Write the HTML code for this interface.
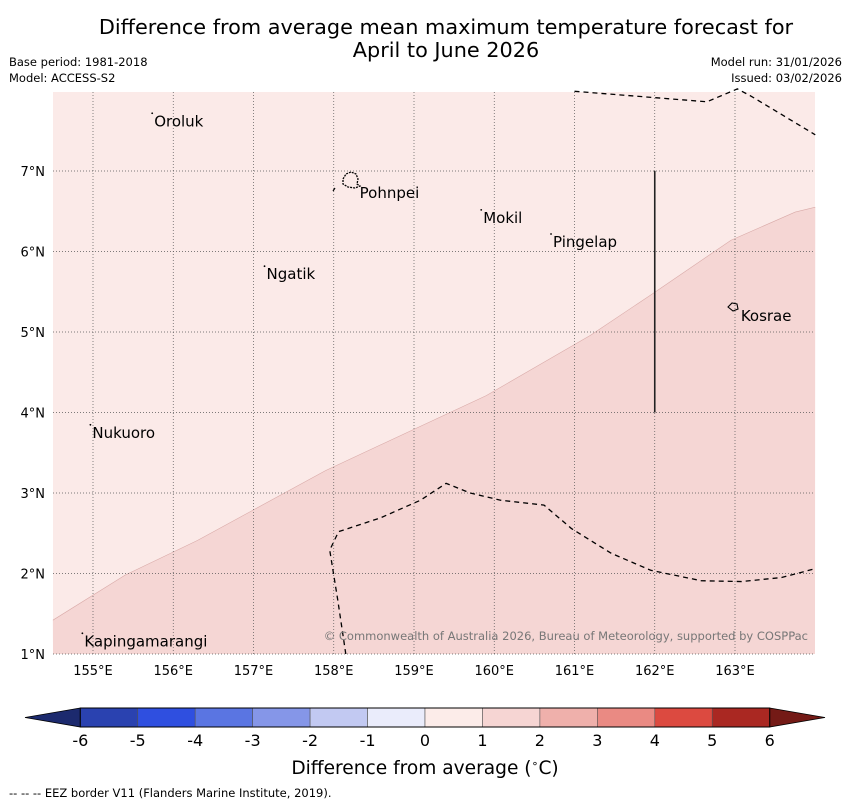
<!DOCTYPE html>
<html><head><meta charset="utf-8"><style>
body{margin:0;background:#fff;font-family:"Liberation Sans","DejaVu Sans",sans-serif}
svg{display:block}
</style></head><body>
<svg width="850" height="804" viewBox="0 0 850 804" font-family="DejaVu Sans, Liberation Sans, sans-serif">
<text x="446" y="34" text-anchor="middle" font-size="20.8">Difference from average mean maximum temperature forecast for</text>
<text x="446" y="57" text-anchor="middle" font-size="20.8">April to June 2026</text>
<text x="9" y="66" font-size="11.5">Base period: 1981-2018</text>
<text x="9" y="82" font-size="11.5">Model: ACCESS-S2</text>
<text x="842" y="66" font-size="11.5" text-anchor="end">Model run: 31/01/2026</text>
<text x="842" y="82" font-size="11.5" text-anchor="end">Issued: 03/02/2026</text>
<g id="map"></g>
<g id="cbar"></g>
<text x="425" y="774" text-anchor="middle" font-size="18.6">Difference from average (<tspan font-size="11" dy="-7">∘</tspan><tspan dy="7">C)</tspan></text>
<text x="9" y="797" font-size="11.5">--  --  -- EEZ border V11 (Flanders Marine Institute, 2019).</text>
</svg>
<script>
const lonTicks=[155,156,157,158,159,160,161,162,163];
const latTicks=[1,2,3,4,5,6,7];
const boundaryLon=[154.5,155.4,156.3,157.9,159.9,161.2,161.95,162.95,163.75,164.0];
const boundaryLat=[1.42,1.98,2.41,3.28,4.21,4.96,5.46,6.14,6.49,6.55];
const eezTopLon=[161.0,162.65,163.03,163.2,164.0];
const eezTopLat=[7.99,7.86,8.02,7.93,7.45];
const eezBotLon=[158.15,158.05,157.95,158.06,158.58,159.08,159.4,159.7,160.08,160.62,160.96,161.46,161.95,162.58,163.08,163.58,164.0];
const eezBotLat=[1.0,1.67,2.29,2.52,2.69,2.91,3.12,3.0,2.91,2.85,2.56,2.25,2.04,1.91,1.9,1.95,2.06];
const places=["Oroluk","Pohnpei","Mokil","Pingelap","Ngatik","Kosrae","Nukuoro","Kapingamarangi"];
const placeLon=[155.75,158.31,159.85,160.72,157.15,163.06,154.98,154.88];
const placeLat=[7.68,6.79,6.48,6.18,5.78,5.26,3.81,1.22];
const levels=[-6,-5,-4,-3,-2,-1,0,1,2,3,4,5,6];
const colors=["#2a42b0","#2f4fe0","#5a75e2","#8596e8","#c2c9f2","#eaecfb","#fcece9","#f6d5d3","#efb0ab","#ea8a83","#dc4a40","#aa2822"];
const X0=53,X1=815,Y0=92,Y1=654;
const x=l=>93+(l-155)*80.25, y=t=>654-(t-1)*80.5;
const NS="http://www.w3.org/2000/svg";
function mk(t,a,p){const e=document.createElementNS(NS,t);for(const k in a)e.setAttribute(k,a[k]);p.appendChild(e);return e;}
const map=document.getElementById('map');
const bg=mk('rect',{x:X0,y:Y0,width:X1-X0,height:Y1-Y0,fill:'#fbeae8'},map);


let d='M'+x(boundaryLon[0])+','+y(boundaryLat[0]);
for(let i=1;i<boundaryLon.length;i++)d+=' L'+x(boundaryLon[i])+','+y(boundaryLat[i]);
const dd=d+' L'+X1+','+Y1+' L'+X0+','+Y1+' Z';
const zone=mk('path',{d:dd,fill:'#f5d6d4'},map);


const bl=mk('path',{d:d,fill:'none',stroke:'#d9aaa8','stroke-width':0.6},map);


lonTicks.forEach(l=>{
 const g=mk('line',{x1:x(l),x2:x(l),y1:Y0,y2:Y1,stroke:'#555','stroke-width':0.7,'stroke-dasharray':'1,2'},map);
 
 
 const t=mk('text',{x:x(l),y:675,'text-anchor':'middle','font-size':13},map);t.textContent=l+'°E';
 
 
});
latTicks.forEach(l=>{
 const g=mk('line',{x1:X0,x2:X1,y1:y(l),y2:y(l),stroke:'#555','stroke-width':0.7,'stroke-dasharray':'1,2'},map);
 
 
 const t=mk('text',{x:45,y:y(l)+5,'text-anchor':'end','font-size':13},map);t.textContent=l+'°N';
 
 
});
function line(lo,la,name){let p='M'+x(lo[0])+','+y(la[0]);for(let i=1;i<lo.length;i++)p+=' L'+x(lo[i])+','+y(la[i]);
 const e=mk('path',{d:p,fill:'none',stroke:'#000','stroke-width':1.3,'stroke-dasharray':'5,4'},map);
 
 }
line(eezTopLon,eezTopLat,'eez-border-north');
line(eezBotLon,eezBotLat,'eez-border-south');
const vl=mk('line',{x1:x(162),x2:x(162),y1:y(7),y2:y(4),stroke:'#222','stroke-width':1.6},map);


const ph=mk('path',{d:'M343,179 l3,-5 5,-2 5,2 2,5 -1,5 3,2 -5,2 -7,-1 -5,-3 z',fill:'none',stroke:'#000','stroke-width':1.3,'stroke-dasharray':'2,1'},map);


const pt=mk('line',{x1:333,y1:191,x2:335,y2:188,stroke:'#000','stroke-width':1.2},map);


const ks=mk('path',{d:'M728,307 l4,-4 5,1 1,5 -5,2 z',fill:'none',stroke:'#000','stroke-width':1.1},map);


places.forEach((p,i)=>{
 const t=mk('text',{x:x(placeLon[i])+1,y:y(placeLat[i])+10,'font-size':15},map);t.textContent=p;
 
 
 if(p!=='Pohnpei'&&p!=='Kosrae'){
 const m=mk('circle',{cx:x(placeLon[i])-1,cy:y(placeLat[i])-3,r:0.9,fill:'#000'},map);
 
 }
});
const cr=mk('text',{x:808,y:640,'text-anchor':'end','font-size':11.5,fill:'#777'},map);
cr.textContent='© Commonwealth of Australia 2026, Bureau of Meteorology, supported by COSPPac';


const cb=document.getElementById('cbar');
const cx=v=>425+v*57.45, cy0=708, cy1=727;
const lt=mk('polygon',{points:`${cx(-6)},${cy0} 25,${(cy0+cy1)/2} ${cx(-6)},${cy1}`,fill:'#1c2a6e',stroke:'#000','stroke-width':0.8},cb);


const rt=mk('polygon',{points:`${cx(6)},${cy0} 825,${(cy0+cy1)/2} ${cx(6)},${cy1}`,fill:'#741a16',stroke:'#000','stroke-width':0.8},cb);


colors.forEach((c,i)=>{
 const r=mk('rect',{x:cx(levels[i]),y:cy0,width:cx(levels[i+1])-cx(levels[i]),height:cy1-cy0,fill:c,stroke:'#555','stroke-width':0.6},cb);
 
 
});
const ob=mk('rect',{x:cx(-6),y:cy0,width:cx(6)-cx(-6),height:cy1-cy0,fill:'none',stroke:'#000','stroke-width':1},cb);


levels.forEach(v=>{
 const t=mk('text',{x:cx(v),y:746,'text-anchor':'middle','font-size':16},cb);t.textContent=v;
 
 
});
</script>
</body></html>
